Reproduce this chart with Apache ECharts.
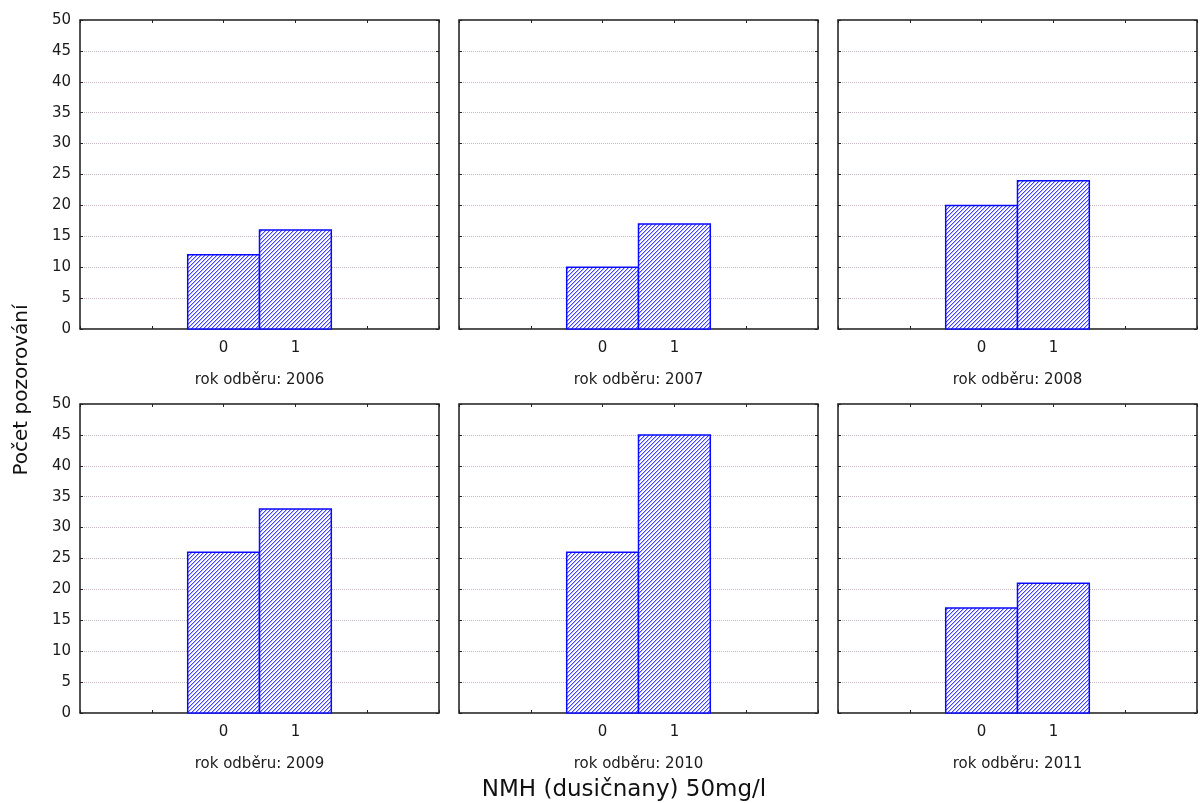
<!DOCTYPE html>
<html>
<head>
<meta charset="utf-8">
<script src="https://cdn.jsdelivr.net/npm/echarts@6/dist/echarts.min.js"></script>
<style>
html,body{margin:0;padding:0;background:#fff;}
#chart{width:1201px;height:803px;}
</style>
</head>
<body>
<div id="chart"></div>
<script>
// ---- data ----
const years = ['2006', '2007', '2008', '2009', '2010', '2011'];
const categories = [0, 1];
const counts0 = [12, 10, 20, 26, 26, 17];
const counts1 = [16, 17, 24, 33, 45, 21];
const yTicks = [0, 5, 10, 15, 20, 25, 30, 35, 40, 45, 50];
const subtitlePrefix = 'rok odběru: ';
const yTitle = 'Počet pozorování';
const xTitle = 'NMH (dusičnany) 50mg/l';

// ---- hatch pattern ----
const tile = document.createElement('canvas');
tile.width = 4; tile.height = 4;
const tctx = tile.getContext('2d');
tctx.fillStyle = '#ffffff';
tctx.fillRect(0, 0, 4, 4);
for (let r = 0; r < 4; r++) {
  const x = (3 - r) % 4;
  tctx.fillStyle = '#4444ff';
  tctx.fillRect(x, r, 1, 1);
  tctx.fillStyle = '#b8b8ff';
  tctx.fillRect((x + 1) % 4, r, 1, 1);
}
const hatch = { image: tile, repeat: 'repeat' };

const FONT = '"DejaVu Sans", Verdana, sans-serif';
const lefts = [80, 459, 838];
const tops = [20, 404];
const W = 359, H = 309;

const grids = [], xAxes = [], yAxes = [], series = [];
years.forEach((yr, i) => {
  const col = i % 3, row = Math.floor(i / 3);
  grids.push({
    left: lefts[col], top: tops[row], width: W, height: H,
    show: true, borderColor: '#3a3a3a', borderWidth: 1, backgroundColor: '#fff'
  });
  const gi = i;
  // bottom x axis
  xAxes.push({
    gridIndex: gi, type: 'value', min: -2, max: 3, interval: 1, position: 'bottom',
    axisLine: { show: true, onZero: false, lineStyle: { color: '#3a3a3a', width: 1.5 } },
    axisTick: { show: true, inside: true, length: 3, lineStyle: { color: '#222' } },
    axisLabel: {
      color: '#1a1a1a', fontFamily: FONT, fontSize: 15, margin: 12,
      formatter: v => (categories.indexOf(v) >= 0 ? String(v) : '')
    },
    splitLine: { show: false },
    name: subtitlePrefix + yr, nameLocation: 'middle', nameGap: 44,
    nameTextStyle: { color: '#1a1a1a', fontFamily: FONT, fontSize: 15 }
  });
  // top x axis (ticks only)
  xAxes.push({
    gridIndex: gi, type: 'value', min: -2, max: 3, interval: 1, position: 'top',
    axisLine: { show: true, onZero: false, lineStyle: { color: '#3a3a3a', width: 1.5 } },
    axisTick: { show: true, inside: true, length: 3, lineStyle: { color: '#222' } },
    axisLabel: { show: false }, splitLine: { show: false }
  });
  // left y axis
  yAxes.push({
    gridIndex: gi, type: 'value', min: yTicks[0], max: yTicks[yTicks.length - 1], interval: 5, position: 'left',
    axisLine: { show: true, onZero: false, lineStyle: { color: '#3a3a3a', width: 1.5 } },
    axisTick: { show: true, inside: true, length: 3, lineStyle: { color: '#222' } },
    axisLabel: { show: col === 0, color: '#1a1a1a', fontFamily: FONT, fontSize: 15, margin: 9 },
    splitLine: { show: true, lineStyle: { color: '#c9b6c9', type: [1, 1], width: 1 } }
  });
  // right y axis (ticks only)
  yAxes.push({
    gridIndex: gi, type: 'value', min: yTicks[0], max: yTicks[yTicks.length - 1], interval: 5, position: 'right',
    axisLine: { show: true, onZero: false, lineStyle: { color: '#3a3a3a', width: 1.5 } },
    axisTick: { show: true, inside: true, length: 3, lineStyle: { color: '#222' } },
    axisLabel: { show: false }, splitLine: { show: false }
  });
  series.push({
    type: 'custom',
    xAxisIndex: 2 * i, yAxisIndex: 2 * i,
    encode: { x: 0, y: 1 },
    data: categories.map((c, k) => [c, k === 0 ? counts0[i] : counts1[i]]),
    z: 3,
    renderItem: (params, api) => {
      const x = api.value(0), y = api.value(1);
      const p0 = api.coord([x - 0.5, y]);
      const p1 = api.coord([x + 0.5, 0]);
      return {
        type: 'rect',
        shape: { x: p0[0], y: p0[1], width: p1[0] - p0[0], height: p1[1] - p0[1] },
        style: { fill: hatch, stroke: '#0a0aff', lineWidth: 1.5 }
      };
    }
  });
});

const chart = echarts.init(document.getElementById('chart'), null, { renderer: 'canvas' });
chart.setOption({
  animation: false,
  backgroundColor: '#fff',
  grid: grids, xAxis: xAxes, yAxis: yAxes, series: series,
  graphic: [
    {
      type: 'text', x: 22, y: 390, rotation: Math.PI / 2,
      style: { text: yTitle, fill: '#111', font: '20px ' + FONT, align: 'center', verticalAlign: 'middle' }
    },
    {
      type: 'text', x: 624, y: 790,
      style: { text: xTitle, fill: '#111', font: '23px ' + FONT, align: 'center', verticalAlign: 'middle' }
    }
  ]
});
</script>
</body>
</html>
